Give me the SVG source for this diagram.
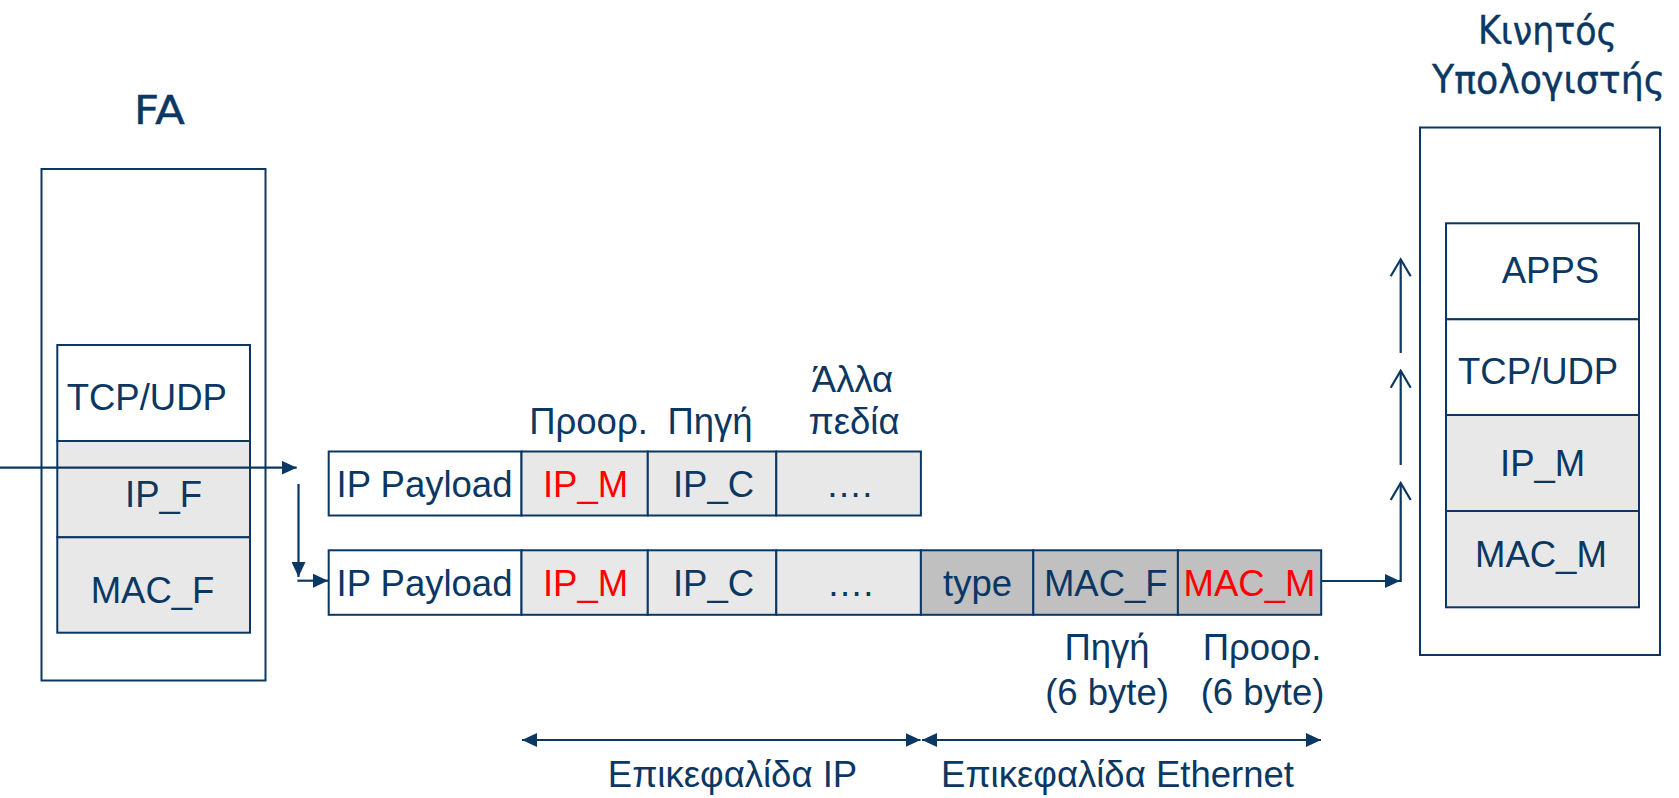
<svg xmlns="http://www.w3.org/2000/svg" width="1679" height="798" viewBox="0 0 1679 798">
<defs>
<style>
.t{font-family:"Liberation Sans",Arial,sans-serif;font-size:36.5px;fill:#0b3763}
.r{fill:#ff0000}
.c{font-family:"DejaVu Sans",sans-serif;font-size:39px;fill:#0b3763;stroke:#0b3763;stroke-width:0.4}
.box{fill:#fff;stroke:#0b3763;stroke-width:2}
.lg{fill:#e8e8e8;stroke:#0b3763;stroke-width:2}
.dg{fill:#c0c0c0;stroke:#0b3763;stroke-width:2}
.ln{fill:none;stroke:#0b3763;stroke-width:2.2}
</style>
<marker id="ah" markerUnits="userSpaceOnUse" viewBox="0 0 15 14" refX="15" refY="7" markerWidth="15" markerHeight="14" orient="auto-start-reverse">
<path d="M0,0 L15,7 L0,14 z" fill="#0b3763"/>
</marker>
<marker id="oh" markerUnits="userSpaceOnUse" viewBox="-2 -12 21 24" refX="17" refY="0" markerWidth="21" markerHeight="24" orient="auto">
<path d="M0,-10 L17,0 L0,10" fill="none" stroke="#0b3763" stroke-width="2.2"/>
</marker>
</defs>
<rect width="1679" height="798" fill="#fff"/>

<g id="fa">
<text class="c" x="134" y="124" font-size="41" textLength="51" lengthAdjust="spacingAndGlyphs">FA</text>
<rect class="box" x="41.5" y="169" width="224" height="511.5"/>
<rect class="box" x="57.3" y="345" width="192.7" height="96"/>
<rect class="lg" x="57.3" y="441" width="192.7" height="96.3"/>
<rect class="lg" x="57.3" y="537.3" width="192.7" height="95.4"/>
<text class="t" x="66.7" y="410">TCP/UDP</text>
<text class="t" x="125" y="506.7">IP_F</text>
<text class="t" x="90.7" y="602.7">MAC_F</text>
</g>

<g id="mobile">
<text class="c" x="1478" y="44" textLength="139" lengthAdjust="spacingAndGlyphs">Κινητός</text>
<text class="c" x="1432" y="93" textLength="233" lengthAdjust="spacingAndGlyphs">Υπολογιστής</text>
<rect class="box" x="1420" y="127.5" width="240" height="527.5"/>
<rect class="box" x="1446" y="223.3" width="193" height="96"/>
<rect class="box" x="1446" y="319.3" width="193" height="95.7"/>
<rect class="lg" x="1446" y="415" width="193" height="96"/>
<rect class="lg" x="1446" y="511" width="193" height="96.3"/>
<text class="t" x="1501.7" y="282.7">APPS</text>
<text class="t" x="1458" y="384">TCP/UDP</text>
<text class="t" x="1500" y="476">IP_M</text>
<text class="t" x="1475" y="566.7">MAC_M</text>
</g>

<g id="ip-packet">
<rect class="box" x="328.7" y="451.5" width="192.8" height="64"/>
<rect class="lg" x="521.5" y="451.5" width="126.3" height="64"/>
<rect class="lg" x="647.8" y="451.5" width="128.5" height="64"/>
<rect class="lg" x="776.3" y="451.5" width="144.6" height="64"/>
<text class="t" x="336.6" y="496.7">IP Payload</text>
<text class="t r" x="585.5" y="496.7" text-anchor="middle">IP_M</text>
<text class="t" x="713.5" y="496.7" text-anchor="middle">IP_C</text>
<text class="t" x="849" y="496.7" text-anchor="middle">….</text>
<text class="t" x="588.5" y="434" text-anchor="middle">Προορ.</text>
<text class="t" x="710" y="434" text-anchor="middle">Πηγή</text>
<text class="t" x="852.5" y="391.7" text-anchor="middle">Άλλα</text>
<text class="t" x="854" y="434" text-anchor="middle">πεδία</text>
</g>

<g id="eth-frame">
<rect class="box" x="328.7" y="550.3" width="192.8" height="64.5"/>
<rect class="lg" x="521.5" y="550.3" width="126.3" height="64.5"/>
<rect class="lg" x="647.8" y="550.3" width="128.5" height="64.5"/>
<rect class="lg" x="776.3" y="550.3" width="144.6" height="64.5"/>
<rect class="dg" x="920.9" y="550.3" width="112.4" height="64.5"/>
<rect class="dg" x="1033.3" y="550.3" width="144.6" height="64.5"/>
<rect class="dg" x="1177.9" y="550.3" width="143.3" height="64.5"/>
<text class="t" x="336.6" y="596">IP Payload</text>
<text class="t r" x="585.5" y="596" text-anchor="middle">IP_M</text>
<text class="t" x="713.5" y="596" text-anchor="middle">IP_C</text>
<text class="t" x="850" y="596" text-anchor="middle">….</text>
<text class="t" x="977.5" y="596" text-anchor="middle">type</text>
<text class="t" x="1105.8" y="596" text-anchor="middle">MAC_F</text>
<text class="t r" x="1249.5" y="596" text-anchor="middle">MAC_M</text>
<text class="t" x="1107" y="660" text-anchor="middle">Πηγή</text>
<text class="t" x="1107" y="705" text-anchor="middle">(6 byte)</text>
<text class="t" x="1262" y="660" text-anchor="middle">Προορ.</text>
<text class="t" x="1262.5" y="705" text-anchor="middle">(6 byte)</text>
</g>

<g id="spans">
<text class="t" x="732.5" y="787" text-anchor="middle">Επικεφαλίδα IP</text>
<text class="t" x="1117.5" y="787" text-anchor="middle">Επικεφαλίδα Ethernet</text>
</g>

<g id="connectors">
<line class="ln" x1="0" y1="467.7" x2="296.7" y2="467.7" marker-end="url(#ah)"/>
<line class="ln" x1="298.5" y1="484" x2="298.5" y2="577" marker-end="url(#ah)"/>
<line class="ln" x1="297.4" y1="580.7" x2="328" y2="580.7" marker-end="url(#ah)"/>
<line class="ln" x1="1321.2" y1="581" x2="1400" y2="581" marker-end="url(#ah)"/>
<line class="ln" x1="1400.7" y1="582" x2="1400.7" y2="483" marker-end="url(#oh)"/>
<line class="ln" x1="1400.7" y1="465" x2="1400.7" y2="370.7" marker-end="url(#oh)"/>
<line class="ln" x1="1400.7" y1="353" x2="1400.7" y2="259.3" marker-end="url(#oh)"/>
<line class="ln" x1="522" y1="740" x2="920.5" y2="740" marker-start="url(#ah)" marker-end="url(#ah)"/>
<line class="ln" x1="922" y1="740" x2="1321" y2="740" marker-start="url(#ah)" marker-end="url(#ah)"/>
</g>
</svg>
